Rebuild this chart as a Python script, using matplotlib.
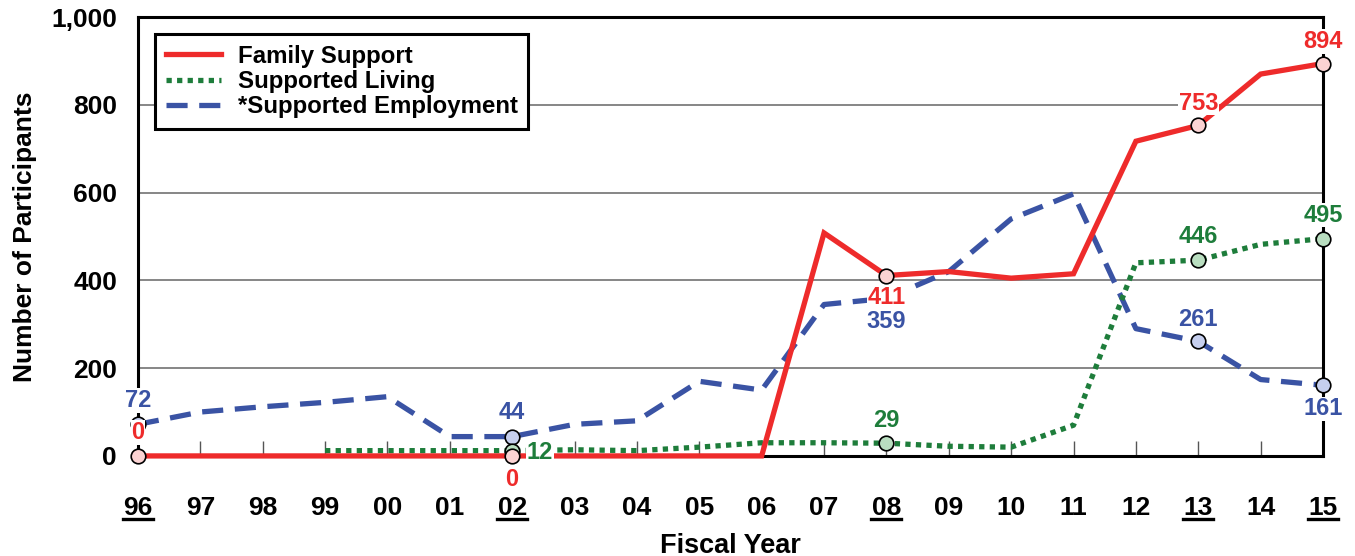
import matplotlib.pyplot as plt
from matplotlib.ticker import FuncFormatter, MultipleLocator
import matplotlib.transforms as mtransforms

plt.rcParams['font.family'] = ['Liberation Sans', 'DejaVu Sans']
plt.rcParams['font.weight'] = 'bold'

# dados
anos = ["96", "97", "98", "99", "00", "01", "02", "03", "04", "05",
        "06", "07", "08", "09", "10", "11", "12", "13", "14", "15"]
family_support = [0, 0, 0, 0, 0, 0, 0, 0, 0, 0,
                  0, 508, 411, 420, 405, 415, 717, 753, 870, 894]
# supported living so comeca em 99
living_anos = anos[3:]
supported_living = [12, 12, 12, 12, 14, 12, 20, 30, 30, 29,
                    22, 20, 70, 440, 446, 482, 495]
supported_employment = [72, 100, 112, 122, 135, 44, 44, 72, 80, 170,
                        150, 345, 359, 420, 540, 597, 290, 261, 174, 161]
destaques = ["96", "02", "08", "13", "15"]

RED = "#EE2B2B"
GREEN = "#1E7D3B"
BLUE = "#3A53A4"
LIGHT = {RED: "#FBD3D3", GREEN: "#B9DEC0", BLUE: "#C6CFEE"}

x_all = list(range(len(anos)))
x_liv = [anos.index(a) for a in living_anos]

fig = plt.figure(figsize=(13.55, 5.56), dpi=100)
ax = fig.add_axes([0.1018, 0.180, 0.8746, 0.7894])

ax.plot(x_all, family_support, color=RED, lw=3.8, solid_joinstyle="miter",
        label="Family Support", zorder=5, clip_on=False)
ax.plot(x_liv, supported_living, color=GREEN, lw=3.8, linestyle=(0, (1.0, 1.0)),
        label="Supported Living", zorder=4, clip_on=False)
ax.plot(x_all, supported_employment, color=BLUE, lw=3.8, linestyle=(0, (4.0, 2.2)),
        label="*Supported Employment", zorder=3, clip_on=False)

# marcadores nos anos destacados
def marcar(xs, ys, nomes, cor, z):
    for xi, yi, n in zip(xs, ys, nomes):
        if n in destaques:
            ax.plot(xi, yi, "o", ms=10.5, mfc=LIGHT[cor], mec="black", mew=1.2,
                    zorder=z, clip_on=False)

marcar(x_all, supported_employment, anos, BLUE, 6)
marcar(x_liv, supported_living, living_anos, GREEN, 7)
marcar(x_all, family_support, anos, RED, 8)

# rotulos dos valores
caixa = dict(facecolor="white", edgecolor="none", pad=0.5)
def rotulo(serie, xs, nomes, ano, dx, dy, cor):
    i = nomes.index(ano)
    ax.annotate(str(serie[i]), (xs[i], serie[i]), xytext=(dx, dy),
                textcoords="offset points", ha="center", va="center",
                color=cor, fontsize=17, fontweight="bold", bbox=caixa,
                zorder=10, annotation_clip=False)

rotulo(family_support, x_all, anos, "96", 0, 17, RED)
rotulo(family_support, x_all, anos, "02", 0, -17, RED)
rotulo(family_support, x_all, anos, "08", 0, -16, RED)
rotulo(family_support, x_all, anos, "13", 0, 16, RED)
rotulo(family_support, x_all, anos, "15", 0, 16, RED)
rotulo(supported_living, x_liv, living_anos, "02", 20, -1, GREEN)
rotulo(supported_living, x_liv, living_anos, "08", 0, 16, GREEN)
rotulo(supported_living, x_liv, living_anos, "13", 0, 17, GREEN)
rotulo(supported_living, x_liv, living_anos, "15", 0, 17, GREEN)
rotulo(supported_employment, x_all, anos, "96", 0, 17, BLUE)
rotulo(supported_employment, x_all, anos, "02", 0, 17, BLUE)
rotulo(supported_employment, x_all, anos, "08", 0, -17, BLUE)
rotulo(supported_employment, x_all, anos, "13", 0, 16, BLUE)
rotulo(supported_employment, x_all, anos, "15", 0, -17, BLUE)

ax.set_xlim(0, len(anos) - 1)
ax.set_ylim(0, 1000)
ax.yaxis.set_major_locator(MultipleLocator(200))
ax.yaxis.set_major_formatter(FuncFormatter(lambda v, p: f"{int(v):,}"))
ax.set_xticks(x_all)
ax.set_xticklabels(anos)
ax.tick_params(axis="x", direction="in", length=11, width=1, color="#555555",
               labelsize=19, pad=29)
ax.tick_params(axis="y", length=0, labelsize=19, pad=15)
ax.grid(axis="y", color="#666666", lw=1.1)
ax.set_axisbelow(True)
for s in ax.spines.values():
    s.set_linewidth(2.2)

# sublinhado dos anos destacados
trans = mtransforms.blended_transform_factory(ax.transData, ax.transAxes)
for a in destaques:
    xi = anos.index(a)
    ax.plot([xi - 0.24, xi + 0.24], [-0.143, -0.143], color="black", lw=2.4,
            transform=trans, clip_on=False)

ax.set_xlabel("Fiscal Year", fontsize=19.5, fontweight="bold", labelpad=9)
ax.set_ylabel("Number of Participants", fontsize=19, fontweight="bold", labelpad=10)

leg = ax.legend(loc="upper left", fontsize=17.3, handlelength=2.3, borderaxespad=0.7,
                borderpad=0.45, labelspacing=0.1, handletextpad=0.7,
                fancybox=False, framealpha=1)
leg.get_frame().set_edgecolor("black")
leg.get_frame().set_linewidth(2.2)
leg.set_zorder(20)

plt.savefig("out.png", dpi=100)
